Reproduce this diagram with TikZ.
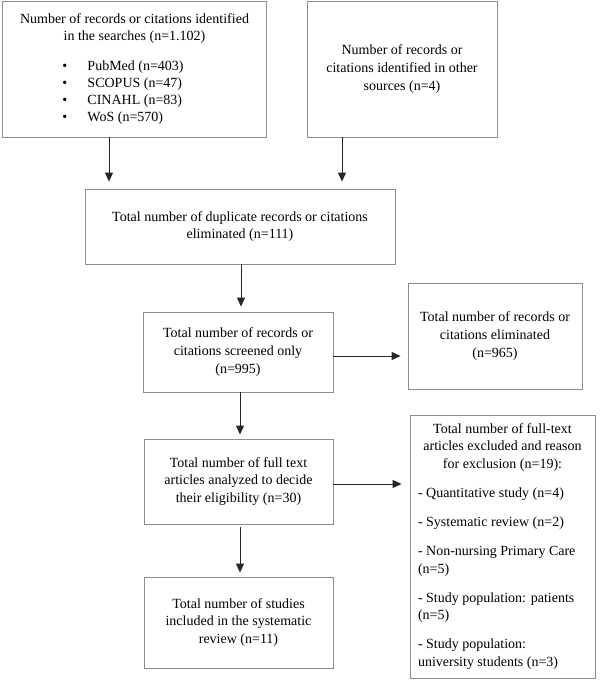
\documentclass[tikz,border=0pt]{standalone}
\usepackage{fontspec}
\setmainfont{Liberation Serif}
\usetikzlibrary{arrows.meta}
\begin{document}
\begin{tikzpicture}[x=1pt,y=-1pt,
  box/.style={draw=black!45, line width=0.9pt, rectangle, inner sep=0pt, align=center,
    font=\fontsize{14}{17.7}\selectfont},
  arr/.style={draw=black!85, line width=1pt, -{Triangle[width=8pt,length=9pt]}}]
\useasboundingbox (0,0) rectangle (600,680);
\fill[white] (0,0) rectangle (600,680);
% boxes
\node[box, minimum width=264pt, minimum height=136pt] (b1) at (134.5,69) {%
  \begin{minipage}{260pt}\centering
  Number of records or citations identified\\ in the searches (n=1.102)\par\vspace{12pt}
  \raggedright
  \hspace*{58pt}\makebox[25pt][l]{\textbullet}PubMed (n=403)\\[-0.7pt]
  \hspace*{58pt}\makebox[25pt][l]{\textbullet}SCOPUS (n=47)\\[-0.7pt]
  \hspace*{58pt}\makebox[25pt][l]{\textbullet}CINAHL (n=83)\\[-0.7pt]
  \hspace*{58pt}\makebox[25pt][l]{\textbullet}WoS (n=570)
  \end{minipage}};
\node[box, minimum width=190pt, minimum height=136pt] (b2) at (402,69)
  {Number of records or\\ citations identified in other\\ sources (n=4)};
\node[box, minimum width=310pt, minimum height=75pt] (b3) at (240,226.5)
  {Total number of duplicate records or citations\\ eliminated (n=111)};
\node[box, minimum width=190pt, minimum height=80pt] (b4) at (238,352)
  {Total number of records or\\ citations screened only\\ (n=995)};
\node[box, minimum width=174pt, minimum height=106pt] (b5) at (495,336)
  {Total number of records or\\ citations eliminated\\ (n=965)};
\node[box, minimum width=189pt, minimum height=85pt] (b6) at (238.5,481.5)
  {Total number of full text\\ articles analyzed to decide\\ their eligibility (n=30)};
\node[box, minimum width=185pt, minimum height=263pt] (b7) at (502.5,546.5) {%
  \begin{minipage}{169pt}\centering
  Total number of full-text\\ articles excluded and reason\\ for exclusion (n=19):\par\vspace{11.3pt}
  \raggedright
  - Quantitative study (n=4)\par\vspace{11.3pt}
  - Systematic review (n=2)\par\vspace{11.3pt}
  - Non-nursing Primary Care\\ (n=5)\par\vspace{11.3pt}
  - Study population: patients\\ (n=5)\par\vspace{11.3pt}
  - Study population:\\ university students (n=3)
  \end{minipage}};
\node[box, minimum width=189pt, minimum height=91pt] (b8) at (238.5,622.5)
  {Total number of studies\\ included in the systematic\\ review (n=11)};
% arrow guide coordinates
\coordinate (xa) at (109,0);
\coordinate (xb) at (342,0);
\coordinate (xc) at (241,0);
\coordinate (xd) at (240,0);
\coordinate (ya) at (0,356);
\coordinate (yb) at (0,484);
% connectors
\draw[arr, shorten >=7pt] (b1.south -| xa) -- (b3.north -| xa);
\draw[arr, shorten >=7pt] (b2.south -| xb) -- (b3.north -| xb);
\draw[arr, shorten >=5pt] (b3.south -| xc) -- (b4.north -| xc);
\draw[arr, shorten >=7pt] (b4.east |- ya) -- (b5.west |- ya);
\draw[arr, shorten >=4pt] (b4.south -| xd) -- (b6.north -| xd);
\draw[arr, shorten >=8pt] (b6.east |- yb) -- (b7.west |- yb);
\draw[arr, shorten <=3pt, shorten >=4pt] (b6.south -| xd) -- (b8.north -| xd);
\end{tikzpicture}
\end{document}
